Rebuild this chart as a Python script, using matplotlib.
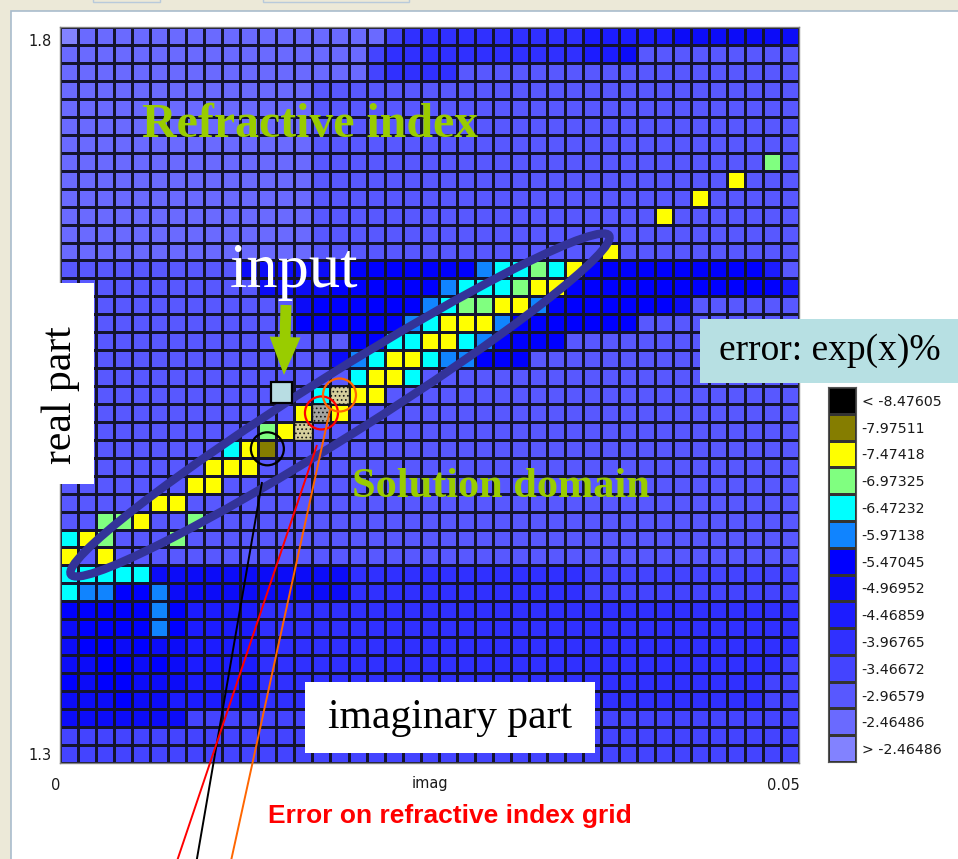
import numpy as np
import matplotlib
matplotlib.use("Agg")
import matplotlib.pyplot as plt
from matplotlib.colors import ListedColormap, BoundaryNorm
from matplotlib.patches import Rectangle, Ellipse, Circle, FancyArrow
from matplotlib.transforms import ScaledTranslation

# ---------------- data ----------------
imag_range = [0.0, 0.05]
real_range = [1.3, 1.8]
x_tick_labels = ["0", "0.05"]
y_tick_labels = ["1.3", "1.8"]
x_axis_label = "imag"

level_labels = ["< -8.47605", "-7.97511", "-7.47418", "-6.97325", "-6.47232",
                "-5.97138", "-5.47045", "-4.96952", "-4.46859", "-3.96765",
                "-3.46672", "-2.96579", "-2.46486", "> -2.46486"]
level_colors = ["#000000", "#857d00", "#ffff00", "#80ff80", "#00ffff",
                "#1084ff", "#0000ff", "#0c0cf8", "#1c1cff", "#3030ff",
                "#4444ff", "#5858ff", "#6a6aff", "#8282ff"]

# error level of every grid cell, top row (real = 1.8) first
# 0-9 / a-d = level index 0..13, x / y = dithered cells
level_codes = "0123456789abcd"
grid_rows = [
    "dccccccccccccccccca9999999999888887777777",
    "ccccccccccccccccca99999999999887bbbbbbbbb",
    "ccccccccccccccccca9999bbbbbbbbbbbbbbbbbbb",
    "ccccccccccccccbbbbbbbbbbbbbbbbbbbbbbbbbbb",
    "ccccccccccccccbbbbbbbbbbbbbbbbbbbbbbbbbbb",
    "ccccccccccccccbbbbbbbbbbbbbbbbbbbbbbbbbbb",
    "ccccccccccccccbbbbbbbbbbbbbbbbbbbbbbbbbbb",
    "ccccccccccccccbbbbbbbbbbbbbbbbbbbbbbbbb3b",
    "ccccccccccccccbbbbbbbbbbbbbbbbbbbbbbb2bbb",
    "ccccccccccccccbbbbbbbbbbbbbbbbbbbbb2bbbbb",
    "ccccccccccccccbbbbbbbbbbbbbbbbbbb2bbbbbbb",
    "ccccccccccccccbbbbbbbbbbbbbbbbbbbbbbbbbbb",
    "ccccccccccccccbbbbbbbbbbbbbbbb2bbbbbbbbbb",
    "bbbbbbbbbb777776666666654434266666666668b",
    "bbbbbbbbbbb777766666654443226666666666668",
    "bbbbbbbbbbbbb7666666543322566666667bbbbbb",
    "bbbbbbbbbbbbb6666665422256666666bbbbbbbbb",
    "bbbbbbbbbbbbbbbb664422456666bbbbbbbbbbbbb",
    "bbbbbbbbbbbbbbb75422455666bbbbbbbbbbbbbbb",
    "bbbbbbbbbbbbbbbb4224bbbbbbbbbbbbbbbbbbbbb",
    "bbbbbbbbbbbbbb4x22bbbbbbbbbbbbbbbbbbbbbbb",
    "bbbbbbbbbbbbb2y2bbbbbbbbbbbbbbbbbbbbbbbbb",
    "bbbbbbbbbbb32xbbbbbbbbbbbbbbbbbbbbbbbbbbb",
    "bbbbbbbbb421bbbbbbbbbbbbbbbbbbbbbbbbbbbbb",
    "bbbbbbbb222bbbbbbbbbbbbbbbbbbbbbbbbbbbbbb",
    "bbbbbbb22bbbbbbbbbbbbbbbbbbbbbbbbbbbbbbbb",
    "bbbbb22bbbbbbbbbbbbbbbbbbbbbbbbbbbbbbbbbb",
    "bb332bb3bbbbbbbbbbbbbbbbbbbbbbbbbbbbbbbbb",
    "423bbb3bbbbbbbbbbbbbbbbbbbbbbbbbbbbbbbbbb",
    "2b2bbbbbbbbbbbbbbbbbbbbbbbbbbbbbbbbbbbbbb",
    "44444777777777779999999999999aaaaaaaaaaaa",
    "45566577777777779999999999999aaaaaaaaaaaa",
    "66666568888999999999999999999999999999999",
    "76666568888999999999999999999999999999999",
    "76676778888999999999999999999999999999999",
    "7766767888899999999999999999999999999999a",
    "676677788889999999999999999999999999999aa",
    "777677888889999999999999999999999999999aa",
    "7777777aaaaaaaaaaaaaaaaaaaaaaaaaaaaaaaaaa",
    "aaaaaaaaaaaaaaaaaaaaaaaaaaaaaaaaaaaaaaaaa",
    "aaaaaaaaaaaaaaaaaaaaaaaaaaaaaaaaaaaaaaaaa",
]
dither_colors = {"x": "#d6cf9c", "y": "#a4a4a0"}

input_point = (0.0150, 1.552)          # (imag, real) of the input index
circled_cells = [(23, 11, "black"), (21, 14, "#ff0000"), (20, 15, "#ff6600")]

# ---------------- figure ----------------
W, H = 958, 859
fig = plt.figure(figsize=(W / 100, H / 100), dpi=100)
fig.patch.set_facecolor("#ece9d8")
plt.rcParams["hatch.linewidth"] = 0.7

# background panel
bg = fig.add_axes([0, 0, 1, 1], zorder=-10)
bg.set_xlim(0, W); bg.set_ylim(H, 0); bg.axis("off")
bg.add_patch(Rectangle((11, 11), W, H, facecolor="white", edgecolor="#a9bccd", lw=1.2))
bg.add_patch(Rectangle((93, -6), 67, 8, facecolor="none", edgecolor="#b8cadb", lw=1))
bg.add_patch(Rectangle((263, -6), 146, 8, facecolor="none", edgecolor="#b8cadb", lw=1))

n_rows = len(grid_rows)
n_cols = len(grid_rows[0])
for r in grid_rows:
    assert len(r) == n_cols, (len(r), r)

lev = np.full((n_rows, n_cols), np.nan)
for i, row in enumerate(grid_rows):
    for j, ch in enumerate(row):
        if ch in level_codes:
            lev[i, j] = level_codes.index(ch)
lev = np.ma.masked_invalid(lev[::-1])   # bottom row first

x_edges = np.linspace(imag_range[0], imag_range[1], n_cols + 1)
y_edges = np.linspace(real_range[0], real_range[1], n_rows + 1)

cmap = ListedColormap(level_colors)
norm = BoundaryNorm(np.arange(-0.5, len(level_colors) + 0.5, 1), len(level_colors))

ax = fig.add_axes([60 / W, (H - 762.7) / H, 739.3 / W, 735.4 / H])
ax.set_facecolor("white")
ax.pcolormesh(x_edges, y_edges, lev, cmap=cmap, norm=norm,
              edgecolors="#141430", linewidth=1.0)
for i, row in enumerate(grid_rows):
    for j, ch in enumerate(row):
        if ch in dither_colors:
            rb = n_rows - 1 - i
            ax.add_patch(Rectangle((x_edges[j], y_edges[rb]),
                                   x_edges[j + 1] - x_edges[j],
                                   y_edges[rb + 1] - y_edges[rb],
                                   facecolor=dither_colors[ch], edgecolor="#141414",
                                   hatch="....", lw=1.0))
ax.set_xlim(*imag_range)
ax.set_ylim(*real_range)
ax.set_xticks(imag_range)
ax.set_xticklabels(x_tick_labels)
ax.set_yticks(real_range)
ax.set_yticklabels(y_tick_labels)
ax.tick_params(length=0, labelsize=10.5, labelcolor="#1a1a1a")
ax.tick_params(axis="x", pad=11)
ax.tick_params(axis="y", pad=6)
for lab in ax.get_xticklabels():
    lab.set_horizontalalignment("right")
ylabs = ax.get_yticklabels()
ylabs[0].set_verticalalignment("bottom")
ylabs[1].set_verticalalignment("top")
ylabs[1].set_transform(ylabs[1].get_transform() + ScaledTranslation(0, -7 / 100, fig.dpi_scale_trans))
ax.set_xlabel(x_axis_label, fontsize=10.5, color="#1a1a1a")
ax.xaxis.set_label_coords(0.5, -(776 - 762.7) / 735.4)
for s in ax.spines.values():
    s.set_color("#808080")
    s.set_linewidth(1.0)

# legend / colour key
cax = fig.add_axes([828 / W, (H - 762) / H, 28 / W, 375 / H])
nlev = len(level_colors)
cax.pcolormesh([0, 1], np.arange(nlev + 1), np.arange(nlev)[::-1].reshape(-1, 1),
               cmap=cmap, norm=norm, edgecolors="#333333", linewidth=1.0)
cax.set_xlim(0, 1); cax.set_ylim(0, nlev)
cax.set_xticks([])
cax.set_yticks(np.arange(nlev) + 0.5)
cax.set_yticklabels(level_labels[::-1])
cax.yaxis.tick_right()
cax.tick_params(length=0, labelsize=10.2, pad=4, labelcolor="#1a1a1a")
for s in cax.spines.values():
    s.set_color("#555555")

# ---------------- annotations ----------------
ov = fig.add_axes([0, 0, 1, 1], zorder=10)
ov.set_xlim(0, W); ov.set_ylim(H, 0); ov.axis("off")
ov.patch.set_alpha(0)

def to_px(x, y):
    px, py = ax.transData.transform((x, y))
    return px, H - py

green = "#99cc00"
serif = "Liberation Serif"

ov.add_patch(Ellipse((340, 405), width=2 * 318, height=2 * 31, angle=-32.2,
                     facecolor="none", edgecolor="#333399", lw=6.0, zorder=2))

ov.text(142, 137, "Refractive index", fontfamily=serif, fontweight="bold",
        fontsize=34.5, color=green, ha="left", va="baseline", zorder=3)
ov.text(352, 497, "Solution domain", fontfamily=serif, fontweight="bold",
        fontsize=30.5, color=green, ha="left", va="baseline", zorder=3)
ov.text(230, 287, "input", fontfamily=serif, fontsize=45, color="white",
        ha="left", va="baseline", zorder=3)
ov.add_patch(FancyArrow(286, 305, -2, 70, width=11, head_width=31, head_length=38,
                        length_includes_head=True, color=green, lw=0, zorder=3))

ix, iy = to_px(*input_point)
ov.add_patch(Rectangle((ix - 10.5, iy - 10.5), 21, 21, facecolor="#b8dde3",
                       edgecolor="black", lw=1.6, zorder=4))

for r, c, col in circled_cells:
    rb = n_rows - 1 - r
    cx, cy = to_px((x_edges[c] + x_edges[c + 1]) / 2, (y_edges[rb] + y_edges[rb + 1]) / 2)
    ov.add_patch(Circle((cx, cy), 16.5, facecolor="none", edgecolor=col, lw=1.6, zorder=5))

leader_lines = [((262, 482), (195, 870), "black"),
                ((317, 445), (174, 870), "#ff0000"),
                ((330, 410), (229, 870), "#ff6600")]
for (x0, y0), (x1, y1), col in leader_lines:
    ov.plot([x0, x1], [y0, y1], color=col, lw=1.4, zorder=5, solid_capstyle="butt")

ov.add_patch(Rectangle((58, 283), 36, 201, facecolor="white", edgecolor="none", zorder=3))
ov.text(61, 395, "real part", fontfamily=serif, fontsize=30, rotation=90,
        ha="center", va="center", color="black", zorder=4)

ov.add_patch(Rectangle((305, 682), 290, 71, facecolor="white", edgecolor="none", zorder=3))
ov.text(450, 718, "imaginary part", fontfamily=serif, fontsize=30,
        ha="center", va="center", color="black", zorder=4)

ov.add_patch(Rectangle((700, 319), 258, 64, facecolor="#b7e0e3", edgecolor="none", zorder=3))
ov.text(830, 351, "error: exp(x)%", fontfamily=serif, fontsize=27,
        ha="center", va="center", color="black", zorder=4)

ov.text(450, 816, "Error on refractive index grid", fontfamily="Liberation Sans",
        fontweight="bold", fontsize=19, color="#ff0000", ha="center", va="center", zorder=4)

fig.savefig("out.png", dpi=100, facecolor=fig.get_facecolor())
